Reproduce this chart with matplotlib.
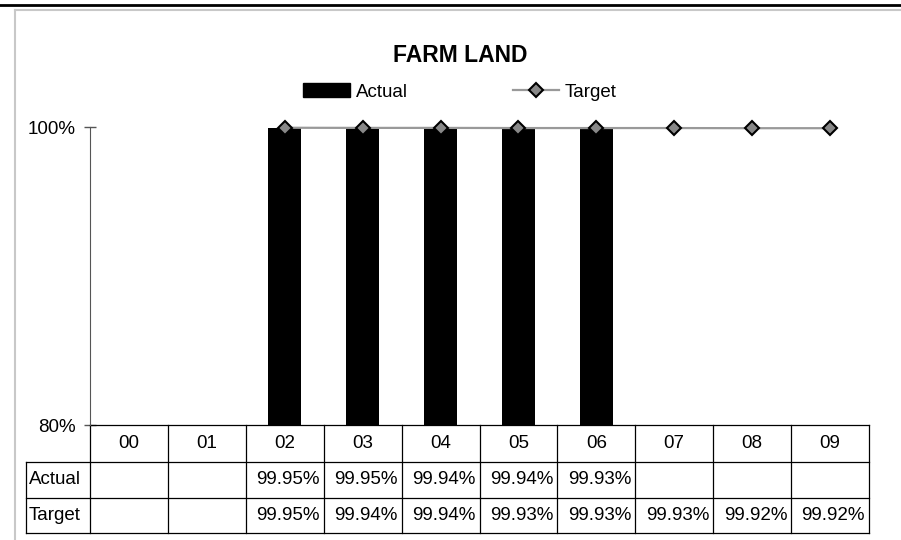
import matplotlib
matplotlib.use('Agg')
import matplotlib.pyplot as plt
from matplotlib.lines import Line2D
from matplotlib.patches import Patch
import numpy as np

# data
years = ['00', '01', '02', '03', '04', '05', '06', '07', '08', '09']
actual = [None, None, 99.95, 99.95, 99.94, 99.94, 99.93, None, None, None]
target = [None, None, 99.95, 99.94, 99.94, 99.93, 99.93, 99.93, 99.92, 99.92]
title = 'FARM LAND'

plt.rcParams['font.family'] = ['Liberation Sans', 'DejaVu Sans']
fs = 13.5

W, H = 901, 540
fig = plt.figure(figsize=(W / 100, H / 100), dpi=100)

# plot area in pixels
x0, x1 = 90, 869
ytop, ybot = 127, 425
ax = fig.add_axes([x0 / W, 1 - ybot / H, (x1 - x0) / W, (ybot - ytop) / H])

x = np.arange(len(years))
act = np.array([np.nan if v is None else v for v in actual]) / 100
tgt = np.array([np.nan if v is None else v for v in target]) / 100

ax.bar(x, np.nan_to_num(act - 0.8), bottom=0.8, width=0.43, color='black', zorder=2)
ax.plot(x, tgt, color='#999999', lw=1.6, marker='D', ms=7, mfc='#888888',
        mec='black', mew=1.5, clip_on=False, zorder=3)

ax.set_xlim(-0.5, len(years) - 0.5)
ax.set_ylim(0.8, 1.0)
ax.set_yticks([0.8, 1.0])
ax.set_yticklabels(['80%', '100%'], fontsize=fs)
ax.tick_params(axis='y', direction='inout', length=8, width=1, color='#555555', pad=6)
ax.set_xticks([])
for s in ['top', 'right']:
    ax.spines[s].set_visible(False)
ax.spines['left'].set_color('#555555')
ax.spines['bottom'].set_visible(False)

# data table below the axis
px = (x1 - x0) / len(years)          # pixels per category
lab_left = -0.5 - (x0 - 26) / px     # row label column left edge in data units
def ay(p):
    return (ybot - p) / (ybot - ytop)

rows = [425, 462, 498, 533]
tr = ax.get_xaxis_transform()
lk = dict(color='black', lw=0.9, transform=tr, clip_on=False)
ax.add_line(Line2D([-0.5, len(years) - 0.5], [ay(rows[0])] * 2, **lk))
for r in rows[1:]:
    ax.add_line(Line2D([lab_left, len(years) - 0.5], [ay(r)] * 2, **lk))
for i in range(len(years) + 1):
    ax.add_line(Line2D([i - 0.5] * 2, [ay(rows[0]), ay(rows[-1])], **lk))
ax.add_line(Line2D([lab_left] * 2, [ay(rows[1]), ay(rows[-1])], **lk))

for i, yr in enumerate(years):
    ax.text(i, ay((rows[0] + rows[1]) / 2), yr, ha='center', va='center',
            fontsize=fs, transform=tr)
for r, (name, vals) in enumerate([('Actual', actual), ('Target', target)]):
    yc = ay((rows[r + 1] + rows[r + 2]) / 2)
    ax.text(lab_left + 0.04, yc, name, ha='left', va='center', fontsize=fs, transform=tr)
    for i, v in enumerate(vals):
        if v is not None:
            ax.text(i + 0.45, yc, f'{v:.2f}%', ha='right', va='center',
                    fontsize=fs, transform=tr)

# title and legend
fig.text(460 / W, 1 - 55 / H, title, ha='center', va='center', fontsize=16.5, weight='bold')
handles = [Patch(facecolor='black', edgecolor='black'),
           Line2D([], [], color='#999999', lw=1.6, marker='D', ms=7, mfc='#888888',
                  mec='black', mew=1.5)]
fig.legend(handles, ['Actual', 'Target'], ncol=2, loc='center left',
           bbox_to_anchor=(303 / W, 1 - 92 / H), frameon=False, fontsize=fs,
           borderpad=0, borderaxespad=0, handlelength=2.5, handleheight=0.7,
           handletextpad=0.3, columnspacing=5.6, numpoints=1)

# frame lines
fig.add_artist(Line2D([0, 1], [1 - 5 / H] * 2, color='black', lw=2, transform=fig.transFigure))
fig.add_artist(Line2D([15 / W, 1], [1 - 9.5 / H] * 2, color='#c8c8c8', lw=1.5, transform=fig.transFigure))
fig.add_artist(Line2D([15 / W] * 2, [0, 1 - 9.5 / H], color='#c8c8c8', lw=1.5, transform=fig.transFigure))

fig.savefig('out.png', dpi=100)
